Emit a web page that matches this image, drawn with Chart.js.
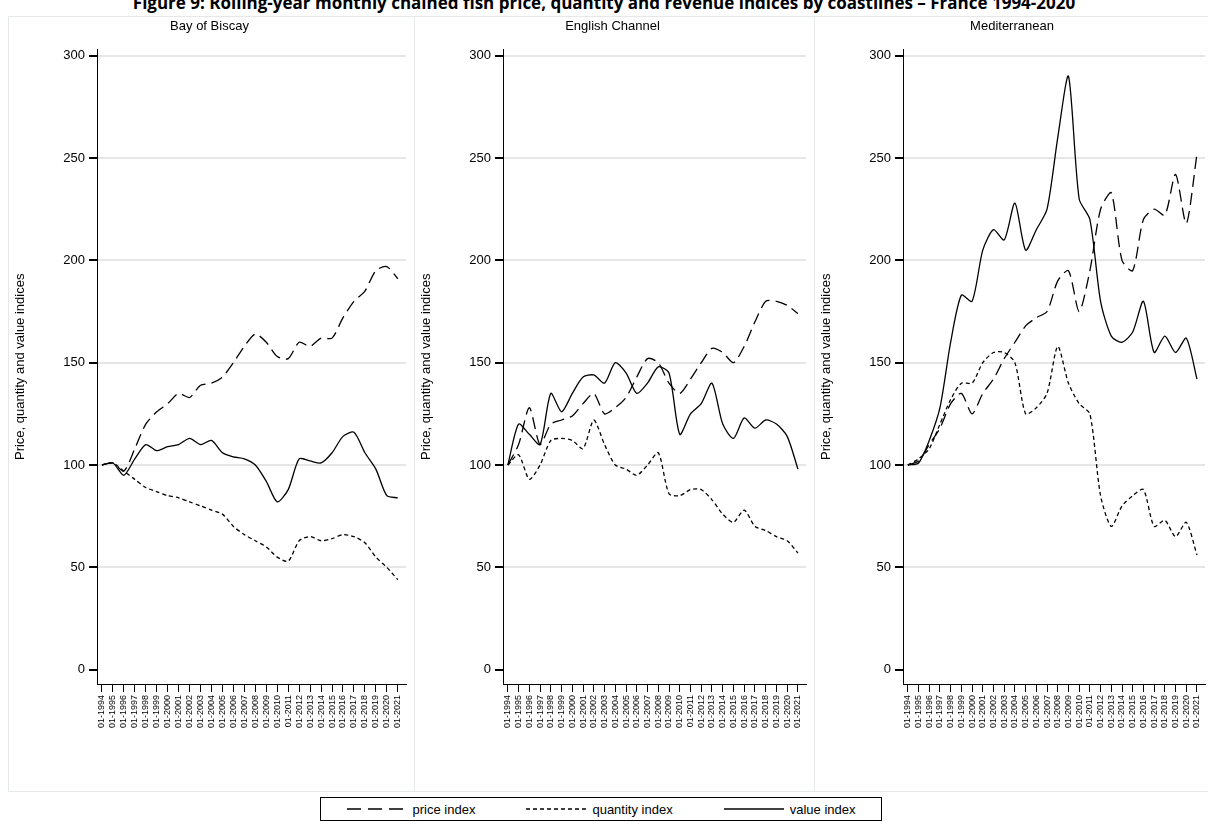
<!DOCTYPE html>
<html>
<head>
<meta charset="utf-8">
<script src="https://cdn.jsdelivr.net/npm/chart.js@4"></script>
<style>
body{margin:0;background:#fff;width:1208px;height:829px;position:relative;overflow:hidden;font-family:"Liberation Sans",Arial,sans-serif}
#title{position:absolute;top:-9px;left:0;width:1208px;text-align:center;font:bold 17px "Open Sans","Liberation Sans",sans-serif;white-space:nowrap}
.panel{position:absolute;top:16px;height:776px;border:1px solid #e4e8e8;box-sizing:border-box}
#legend{position:absolute;left:320px;top:797px;width:562px;height:24px;border:1px solid #000;box-sizing:border-box;display:flex;align-items:center;justify-content:space-around;font-size:13px}
#legend span{display:inline-flex;align-items:center;gap:6px}
</style>
</head>
<body>
<div id="title">Figure 9: Rolling-year monthly chained fish price, quantity and revenue indices by coastlines – France 1994-2020</div>
<div class="panel" style="left:8px;width:407px"><canvas id="c1"></canvas></div>
<div class="panel" style="left:414px;width:401px"><canvas id="c2"></canvas></div>
<div class="panel" style="left:814px;width:400px"><canvas id="c3"></canvas></div>
<div id="legend">
  <span><svg width="60" height="4"><line x1="0" y1="2" x2="60" y2="2" stroke="#000" stroke-width="1.3" stroke-dasharray="14,7"/></svg>price index</span>
  <span><svg width="60" height="4"><line x1="0" y1="2" x2="60" y2="2" stroke="#000" stroke-width="1.3" stroke-dasharray="4,3"/></svg>quantity index</span>
  <span><svg width="60" height="4"><line x1="0" y1="2" x2="60" y2="2" stroke="#000" stroke-width="1.3"/></svg>value index</span>
</div>
<script>
const years = [1994,1995,1996,1997,1998,1999,2000,2001,2002,2003,2004,2005,2006,2007,2008,2009,2010,2011,2012,2013,2014,2015,2016,2017,2018,2019,2020,2021];
const coastlines = ["Bay of Biscay","English Channel","Mediterranean"];

const biscayPrice = [100,101,97,108,120,126,130,135,133,139,140,143,150,158,164,160,153,152,160,158,162,162,172,180,185,195,197,191];
const biscayQuantity = [100,101,97,93,89,87,85,84,82,80,78,76,70,66,63,60,55,53,63,65,63,64,66,65,62,55,50,44];
const biscayValue = [100,101,95,103,110,107,109,110,113,110,112,106,104,103,100,92,82,88,103,102,101,106,114,116,106,98,85,84];

const channelPrice = [100,110,128,110,120,122,124,130,135,125,128,133,143,152,150,140,135,142,150,157,155,150,158,170,180,180,178,174];
const channelQuantity = [100,105,93,100,112,113,112,108,122,110,100,98,95,100,106,86,85,88,88,83,76,72,78,70,68,65,63,57];
const channelValue = [100,120,115,110,135,126,135,143,144,140,150,145,135,140,148,145,115,125,130,140,120,113,123,118,122,120,114,98];

const medPrice = [100,102,110,118,130,135,125,135,142,152,160,168,172,175,190,195,175,195,225,233,200,195,220,225,222,242,218,252];
const medQuantity = [100,103,108,120,132,140,140,150,155,155,150,125,128,135,158,140,130,125,85,70,80,85,88,70,73,65,72,56];
const medValue = [100,101,112,128,160,183,180,205,215,210,228,205,215,225,260,290,230,220,180,163,160,165,180,155,163,155,162,142];

const yTicks = [0,50,100,150,200,250,300];

function pts(arr){ return years.map((y,i)=>({x:y,y:arr[i]})); }

function makeChart(id, name, price, quantity, value, w){
  const cv = document.getElementById(id);
  cv.width = w; cv.height = 774;
  const line = (label, data, dash) => ({label, data: pts(data), borderColor:'#000', borderWidth:1.3,
    borderDash: dash, pointRadius:0, tension:0.25, fill:false});
  new Chart(cv, {
    type:'line',
    data:{datasets:[
      line('price index', price, [12,6]),
      line('quantity index', quantity, [4,3]),
      line('value index', value, [])
    ]},
    options:{
      responsive:false, animation:false,
      layout:{padding:{left:4,right:8,top:0,bottom:0}},
      plugins:{legend:{display:false}, tooltip:{enabled:false},
        title:{display:true,text:name,color:'#000',font:{size:13,weight:'normal'},padding:{top:2,bottom:15}}},
      scales:{
        x:{type:'linear',min:1993.55,max:2021.75,
          afterBuildTicks:a=>{a.ticks=years.map(v=>({value:v}));},
          afterFit:a=>{a.height=107;},
          ticks:{color:'#000',font:{size:9},maxRotation:90,minRotation:90,autoSkip:false,
            callback:v=>'01-'+v},
          grid:{drawOnChartArea:false,color:'#000',tickLength:8},
          border:{color:'#000'}},
        y:{min:-7,max:303,
          afterBuildTicks:a=>{a.ticks=yTicks.map(v=>({value:v}));},
          afterFit:a=>{a.width=84;},
          title:{display:true,text:'Price, quantity and value indices',color:'#000',font:{size:13},padding:0},
          ticks:{color:'#000',font:{size:13},padding:4},
          grid:{color:c=>c.tick&&c.tick.value===0?'rgba(0,0,0,0)':'#e6e6e6',lineWidth:2,tickColor:'#000',tickLength:8},
          border:{color:'#000'}}
      }
    }
  });
}
makeChart('c1', coastlines[0], biscayPrice, biscayQuantity, biscayValue, 405);
makeChart('c2', coastlines[1], channelPrice, channelQuantity, channelValue, 399);
makeChart('c3', coastlines[2], medPrice, medQuantity, medValue, 398);
</script>
</body>
</html>
